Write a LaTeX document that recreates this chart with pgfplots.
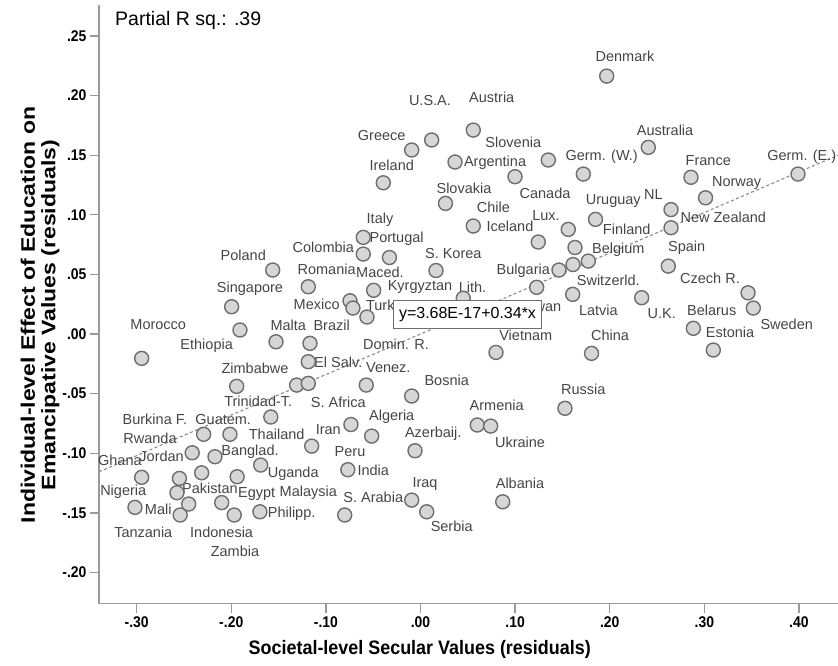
\documentclass[border=0pt]{standalone}
\usepackage{fontspec}
\setmainfont{Liberation Sans}
\newfontfamily\narrowfont[FakeStretch=0.9]{Liberation Sans}
\newfontfamily\titlefont[FakeStretch=0.92]{Liberation Sans}
\usepackage{pgfplots}
\pgfplotsset{compat=1.18}
\definecolor{circfill}{HTML}{D6D6D6}
\definecolor{circdraw}{HTML}{6E6E6E}
\definecolor{labelgray}{HTML}{454545}
\definecolor{axisgray}{HTML}{9A9A9A}
\definecolor{linegray}{HTML}{8A8A8A}
\begin{document}
\begin{tikzpicture}
\begin{axis}[
  scale only axis, width=739pt, height=598.9pt,
  xmin=-0.3398, xmax=0.4413, ymin=-0.2262, ymax=0.2762,
  axis x line*=bottom, axis y line*=left,
  axis line style={draw=axisgray, line width=1.3pt},
  xtick={-0.3,-0.2,-0.1,0,0.1,0.2,0.3,0.4},
  xticklabels={-.30,-.20,-.10,.00,.10,.20,.30,.40},
  ytick={-0.2,-0.15,-0.1,-0.05,0,0.05,0.1,0.15,0.2,0.25},
  yticklabels={-.20,-.15,-.10,-.05,.00,.05,.10,.15,.20,.25},
  tick align=outside, major tick length=9pt,
  tick style={draw=axisgray, line width=1.3pt},
  ticklabel style={font=\narrowfont\bfseries\fontsize{15.5}{15.5}\selectfont, text=black},
  xticklabel style={yshift=0pt},
  xlabel={Societal-level Secular Values (residuals)},
  xlabel style={at={(axis description cs:0.434,-0.076)}, anchor=center, font=\titlefont\bfseries\fontsize{19.5}{19.5}\selectfont},
  ylabel={Individual-level Effect of Education on\\Emancipative Values (residuals)},
  ylabel style={at={(axis description cs:-0.0798,0.482)}, anchor=center, align=center, yscale=0.85, font=\bfseries\fontsize{23}{24}\selectfont},
  clip=false,
]
\coordinate (sw) at (rel axis cs:0,0);
\coordinate (ne) at (rel axis cs:1,1);
\coordinate (boxc) at (axis cs:0.0497,0.0166);
% country labels
\addplot[draw=none, mark=none, nodes near coords, point meta=explicit symbolic,
  nodes near coords style={anchor=center, inner sep=0pt, font=\fontsize{14.5}{14.5}\selectfont, text=labelgray}]
  table[meta=label, col sep=comma, row sep=\\] {
x,y,label\\
0.0100,0.1963,U.S.A.\\
0.0753,0.1982,Austria\\
0.2162,0.2326,Denmark\\
-0.0410,0.1669,Greece\\
0.0981,0.1605,Slovenia\\
0.0788,0.1440,Argentina\\
0.1915,0.1491,Germ. (W.)\\
0.2585,0.1711,Australia\\
0.3042,0.1457,France\\
0.4030,0.1487,Germ. (E.)\\
-0.0304,0.1418,Ireland\\
0.3342,0.1267,Norway\\
0.0460,0.1225,Slovakia\\
0.1316,0.1180,Canada\\
0.2038,0.1118,Uruguay\\
0.2461,0.1170,NL\\
0.0770,0.1059,Chile\\
0.1327,0.0990,Lux.\\
0.3201,0.0982,New Zealand\\
0.0946,0.0900,Iceland\\
0.2180,0.0878,Finland\\
-0.0428,0.0961,Italy\\
-0.0252,0.0797,Portugal\\
-0.1027,0.0724,Colombia\\
0.0347,0.0677,S. Korea\\
0.2091,0.0711,Belgium\\
0.2814,0.0726,Spain\\
-0.1873,0.0663,Poland\\
-0.0992,0.0543,Romania\\
-0.0428,0.0518,Maced.\\
0.1087,0.0534,Bulgaria\\
0.1985,0.0453,Switzerld.\\
0.3060,0.0464,Czech R.\\
-0.1802,0.0383,Singapore\\
-0.0005,0.0392,Kyrgyztan\\
0.0550,0.0394,Lith.\\
-0.1097,0.0252,Mexico\\
-0.0344,0.0229,Turkey\\
0.1249,0.0231,Taiwan\\
0.1880,0.0201,Latvia\\
0.2550,0.0169,U.K.\\
0.3078,0.0201,Belarus\\
0.3871,0.0084,Sweden\\
0.3272,0.0011,Estonia\\
-0.2772,0.0076,Morocco\\
-0.1397,0.0076,Malta\\
-0.0939,0.0076,Brazil\\
0.1113,-0.0008,Vietnam\\
0.2003,-0.0008,China\\
-0.2260,-0.0098,Ethiopia\\
-0.0259,-0.0088,Domin. R.\\
-0.0869,-0.0241,El Salv.\\
-0.0340,-0.0283,Venez.\\
-0.1749,-0.0288,Zimbabwe\\
0.0277,-0.0386,Bosnia\\
0.1721,-0.0463,Russia\\
-0.1715,-0.0568,Trinidad-T.\\
-0.0869,-0.0576,S. Africa\\
0.0806,-0.0596,Armenia\\
-0.2807,-0.0716,Burkina F.\\
-0.2085,-0.0716,Guatem.\\
-0.0304,-0.0694,Algeria\\
-0.0975,-0.0800,Iran\\
0.0135,-0.0839,Azerbaij.\\
-0.2859,-0.0875,Rwanda\\
-0.1520,-0.0839,Thailand\\
0.1052,-0.0912,Ukraine\\
-0.0745,-0.0987,Peru\\
-0.2736,-0.1029,Jordan\\
-0.1802,-0.0987,Banglad.\\
-0.3177,-0.1063,Ghana\\
-0.1345,-0.1174,Uganda\\
-0.0499,-0.1141,India\\
0.1052,-0.1253,Albania\\
0.0048,-0.1258,Iraq\\
-0.3142,-0.1323,Nigeria\\
-0.2225,-0.1294,Pakistan\\
-0.1732,-0.1342,Egypt\\
-0.1186,-0.1331,Malaysia\\
-0.0499,-0.1370,S. Arabia\\
-0.2772,-0.1468,Mali\\
-0.1362,-0.1504,Philipp.\\
-0.2930,-0.1659,Tanzania\\
-0.2102,-0.1667,Indonesia\\
0.0330,-0.1617,Serbia\\
-0.1961,-0.1826,Zambia\\
};
% points
\addplot[only marks, mark=*, mark size=7pt, mark options={fill=circfill, draw=circdraw, line width=1.4pt}]
  table[row sep=\\] {
x y\\
-0.0093 0.1544\\
0.0118 0.1628\\
0.0558 0.1711\\
0.0365 0.1443\\
0.1351 0.1460\\
0.1968 0.2164\\
0.2408 0.1566\\
0.0999 0.1320\\
0.1721 0.1342\\
0.2859 0.1315\\
0.3990 0.1342\\
0.3013 0.1143\\
-0.0393 0.1269\\
0.0264 0.1096\\
0.2648 0.1044\\
0.1850 0.0962\\
0.0558 0.0906\\
0.1562 0.0878\\
0.2648 0.0892\\
0.1245 0.0772\\
0.1633 0.0726\\
-0.0605 0.0811\\
-0.0605 0.0671\\
-0.0328 0.0642\\
0.0164 0.0533\\
-0.1562 0.0537\\
0.1774 0.0612\\
0.1612 0.0583\\
0.1464 0.0537\\
0.2619 0.0570\\
-0.1186 0.0397\\
-0.0495 0.0367\\
0.1228 0.0392\\
0.0452 0.0300\\
0.1609 0.0333\\
0.2338 0.0305\\
0.3462 0.0346\\
0.3518 0.0218\\
-0.1996 0.0229\\
-0.0745 0.0279\\
-0.0714 0.0218\\
-0.0566 0.0143\\
-0.1908 0.0034\\
0.2884 0.0048\\
0.3095 -0.0134\\
-0.2947 -0.0204\\
-0.1527 -0.0065\\
-0.1168 -0.0078\\
-0.1186 -0.0232\\
0.0798 -0.0154\\
0.1808 -0.0162\\
-0.1943 -0.0439\\
-0.1309 -0.0428\\
-0.1186 -0.0414\\
-0.0573 -0.0428\\
-0.0093 -0.0520\\
-0.1582 -0.0696\\
-0.0735 -0.0759\\
-0.0516 -0.0856\\
0.1527 -0.0623\\
0.0600 -0.0763\\
0.0742 -0.0772\\
-0.2292 -0.0841\\
-0.2014 -0.0841\\
-0.1150 -0.0940\\
-0.0058 -0.0979\\
-0.2413 -0.0996\\
-0.2172 -0.1029\\
-0.1689 -0.1099\\
-0.0768 -0.1138\\
-0.2947 -0.1202\\
-0.2548 -0.1211\\
-0.2313 -0.1164\\
-0.1938 -0.1197\\
-0.2574 -0.1331\\
-0.2450 -0.1426\\
-0.2101 -0.1414\\
-0.3018 -0.1454\\
-0.2540 -0.1518\\
-0.1969 -0.1518\\
-0.1697 -0.1491\\
-0.0801 -0.1518\\
-0.0093 -0.1393\\
0.0066 -0.1491\\
0.0869 -0.1407\\
};
% fit line
\addplot[draw=linegray, line width=1.1pt, dash pattern=on 3pt off 2.5pt] coordinates {(-0.3398,-0.1155) (0.4413,0.1500)};
\node[anchor=west, inner sep=0pt, font=\fontsize{19.5}{19.5}\selectfont] at (axis cs:-0.3229,0.2634) {Partial R sq.: .39};
\end{axis}
\node[draw=circdraw, fill=white, line width=1.1pt, minimum width=148pt, minimum height=28pt, inner sep=0pt, font=\fontsize{16}{16}\selectfont] at (boxc) {y=3.68E-17+0.34*x};
\pgfresetboundingbox
\path[use as bounding box] ([xshift=-99pt,yshift=-61.3pt]sw) rectangle ([yshift=4.8pt]ne);
\end{tikzpicture}
\end{document}
